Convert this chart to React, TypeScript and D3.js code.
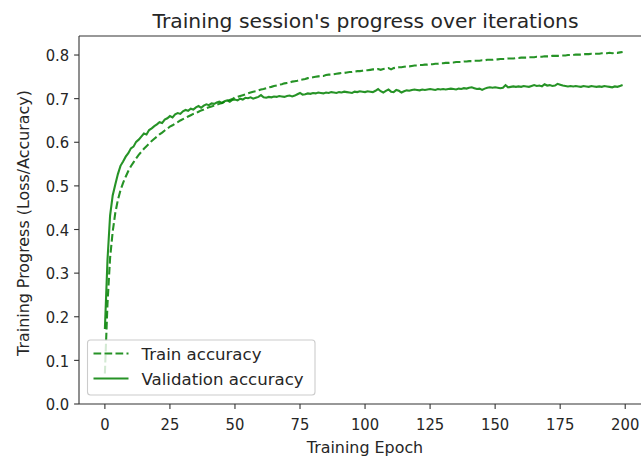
import React from "react";
import * as d3 from "d3";

const epochs: number[] = Array.from({ length: 200 }, (_, i) => i);

const trainAccuracy: number[] = [
  0.070, 0.230, 0.335, 0.395, 0.438, 0.468, 0.490, 0.507, 0.521, 0.534,
  0.545, 0.554, 0.563, 0.571, 0.578, 0.585, 0.591, 0.597, 0.603, 0.608,
  0.613, 0.618, 0.622, 0.627, 0.631, 0.636, 0.639, 0.643, 0.646, 0.650,
  0.653, 0.656, 0.659, 0.662, 0.665, 0.667, 0.670, 0.673, 0.675, 0.678,
  0.680, 0.682, 0.684, 0.686, 0.688, 0.690, 0.693, 0.695, 0.697, 0.699,
  0.703, 0.704, 0.706, 0.708, 0.710, 0.712, 0.714, 0.716, 0.717, 0.719,
  0.721, 0.722, 0.724, 0.726, 0.727, 0.729, 0.730, 0.732, 0.733, 0.735,
  0.736, 0.737, 0.739, 0.740, 0.741, 0.743, 0.744, 0.745, 0.747, 0.748,
  0.749, 0.750, 0.751, 0.752, 0.752, 0.754, 0.755, 0.755, 0.756, 0.757,
  0.758, 0.759, 0.759, 0.760, 0.761, 0.761, 0.762, 0.763, 0.763, 0.764,
  0.765, 0.765, 0.766, 0.767, 0.767, 0.768, 0.766, 0.768, 0.769, 0.770,
  0.767, 0.770, 0.771, 0.772, 0.772, 0.773, 0.774, 0.774, 0.775, 0.776,
  0.776, 0.777, 0.777, 0.778, 0.778, 0.779, 0.779, 0.780, 0.780, 0.781,
  0.781, 0.782, 0.782, 0.783, 0.783, 0.784, 0.784, 0.784, 0.785, 0.785,
  0.786, 0.786, 0.787, 0.787, 0.787, 0.788, 0.788, 0.789, 0.789, 0.789,
  0.790, 0.790, 0.791, 0.791, 0.791, 0.792, 0.792, 0.792, 0.793, 0.793,
  0.794, 0.794, 0.794, 0.795, 0.795, 0.795, 0.796, 0.796, 0.796, 0.797,
  0.797, 0.797, 0.798, 0.798, 0.798, 0.799, 0.799, 0.799, 0.800, 0.800,
  0.800, 0.801, 0.801, 0.801, 0.802, 0.802, 0.802, 0.803, 0.803, 0.803,
  0.803, 0.804, 0.804, 0.804, 0.805, 0.804, 0.805, 0.805, 0.806, 0.807,
];

const validationAccuracy: number[] = [
  0.172, 0.330, 0.432, 0.478, 0.503, 0.527, 0.546, 0.556, 0.567, 0.575,
  0.586, 0.590, 0.601, 0.606, 0.613, 0.620, 0.618, 0.628, 0.632, 0.637,
  0.641, 0.646, 0.644, 0.652, 0.655, 0.660, 0.657, 0.664, 0.667, 0.665,
  0.671, 0.674, 0.672, 0.677, 0.675, 0.680, 0.683, 0.679, 0.684, 0.687,
  0.685, 0.689, 0.688, 0.691, 0.693, 0.690, 0.694, 0.696, 0.693, 0.697,
  0.698, 0.696, 0.700, 0.698, 0.702, 0.701, 0.703, 0.700, 0.702, 0.704,
  0.708, 0.703, 0.702, 0.704, 0.703, 0.705, 0.704, 0.706, 0.705, 0.704,
  0.706, 0.707, 0.705, 0.707, 0.710, 0.713, 0.709, 0.710, 0.712, 0.711,
  0.713, 0.712, 0.714, 0.713, 0.712, 0.714, 0.713, 0.715, 0.714, 0.713,
  0.715, 0.714, 0.716, 0.715, 0.714, 0.713, 0.716, 0.715, 0.717, 0.716,
  0.715, 0.717, 0.716, 0.715, 0.718, 0.722, 0.717, 0.714, 0.718, 0.721,
  0.716, 0.715, 0.720, 0.718, 0.714, 0.717, 0.719, 0.718, 0.720, 0.721,
  0.720, 0.719, 0.721, 0.720, 0.721, 0.722, 0.721, 0.720, 0.722, 0.721,
  0.722, 0.721, 0.722, 0.723, 0.722, 0.721, 0.723, 0.722, 0.724, 0.723,
  0.725, 0.726, 0.724, 0.722, 0.723, 0.720, 0.723, 0.725, 0.726, 0.725,
  0.726, 0.725, 0.724, 0.725, 0.731, 0.726, 0.727, 0.728, 0.727, 0.728,
  0.727, 0.729, 0.728, 0.727, 0.729, 0.731, 0.729, 0.730, 0.728, 0.733,
  0.730, 0.731, 0.729, 0.730, 0.734, 0.732, 0.730, 0.729, 0.728, 0.729,
  0.728, 0.729, 0.728, 0.727, 0.729, 0.728, 0.727, 0.729, 0.728, 0.727,
  0.728, 0.727, 0.729, 0.728, 0.727, 0.726, 0.728, 0.727, 0.729, 0.731,
];

const xTicks: number[] = [0, 25, 50, 75, 100, 125, 150, 175, 200];
const yTicks: number[] = [0.0, 0.1, 0.2, 0.3, 0.4, 0.5, 0.6, 0.7, 0.8];
const seriesLabels: string[] = ["Train accuracy", "Validation accuracy"];

const W = 641;
const H = 459;
const FONT = "DejaVu Sans, sans-serif";
const GREEN = "#008000";

export default function App() {
  const left = 79;
  const top = 36;
  const bottom = 404;
  const right = 648.5;
  const xScale = d3.scaleLinear().domain([-9.95, 208.95]).range([left, right]);
  const yScale = d3.scaleLinear().domain([0, 0.8436]).range([bottom, top]);

  const line = d3
    .line<number>()
    .x((_, i) => xScale(epochs[i]))
    .y((d) => yScale(d));

  const textColor = "#262626";
  const tickFont = 14.8;

  return (
    <svg
      width={W}
      height={H}
      style={{ position: "absolute", left: 0, top: 0, background: "#fff" }}
      fontFamily={FONT}
    >
      <rect x={0} y={0} width={W} height={H} fill="#fff" />
      <defs>
        <clipPath id="axclip">
          <rect x={left} y={top} width={right - left} height={bottom - top} />
        </clipPath>
      </defs>

      <g clipPath="url(#axclip)">
        <path
          d={line(trainAccuracy) || ""}
          fill="none"
          stroke={GREEN}
          strokeOpacity={0.85}
          strokeWidth={2.1}
          strokeDasharray="7.7,3.3"
        />
        <path
          d={line(validationAccuracy) || ""}
          fill="none"
          stroke={GREEN}
          strokeOpacity={0.85}
          strokeWidth={2.1}
        />
      </g>

      {/* spines */}
      <line x1={left} x2={left} y1={top} y2={bottom} stroke="#333" strokeWidth={1.1} />
      <line x1={left} x2={W} y1={bottom} y2={bottom} stroke="#333" strokeWidth={1.1} />
      <line x1={left} x2={W} y1={top} y2={top} stroke="#333" strokeWidth={1.1} />

      {/* y ticks */}
      {yTicks.map((t) => (
        <g key={"y" + t}>
          <line
            x1={left - 4.9}
            x2={left}
            y1={yScale(t)}
            y2={yScale(t)}
            stroke="#333"
            strokeWidth={1.1}
          />
          <text
            transform={`translate(${left - 9.8}, ${yScale(t) + 6.2}) scale(1, 1.12)`}
            textAnchor="end"
            fontSize={tickFont}
            fill={textColor}
          >
            {t.toFixed(1)}
          </text>
        </g>
      ))}

      {/* x ticks */}
      {xTicks.map((t) => (
        <g key={"x" + t}>
          <line
            x1={xScale(t)}
            x2={xScale(t)}
            y1={bottom}
            y2={bottom + 4.9}
            stroke="#333"
            strokeWidth={1.1}
          />
          <text
            transform={`translate(${xScale(t)}, 429.5) scale(1, 1.12)`}
            textAnchor="middle"
            fontSize={tickFont}
            fill={textColor}
          >
            {t}
          </text>
        </g>
      ))}

      <text x={365} y={452.5} textAnchor="middle" fontSize={15.9} fill={textColor}>
        Training Epoch
      </text>
      <text
        transform={`translate(29, 223) rotate(-90)`}
        textAnchor="middle"
        fontSize={15.9}
        fill={textColor}
      >
        Training Progress (Loss/Accuracy)
      </text>
      <text x={365.5} y={28} textAnchor="middle" fontSize={20.3} fill={textColor}>
        Training session's progress over iterations
      </text>

      {/* legend */}
      <rect
        x={87.5}
        y={340}
        width={227.5}
        height={55}
        rx={3}
        fill="#fff"
        fillOpacity={0.8}
        stroke="#cccccc"
        strokeWidth={1.1}
      />
      {seriesLabels.map((label, i) => {
        const yy = 353.5 + i * 25;
        return (
          <g key={label}>
            <line
              x1={93.5}
              x2={128.5}
              y1={yy}
              y2={yy}
              stroke={GREEN}
              strokeOpacity={0.85}
              strokeWidth={2.1}
              strokeDasharray={i === 0 ? "7.7,3.3" : undefined}
            />
            <text x={141.5} y={yy + 6.5} fontSize={16.6} fill={textColor}>
              {label}
            </text>
          </g>
        );
      })}
    </svg>
  );
}
